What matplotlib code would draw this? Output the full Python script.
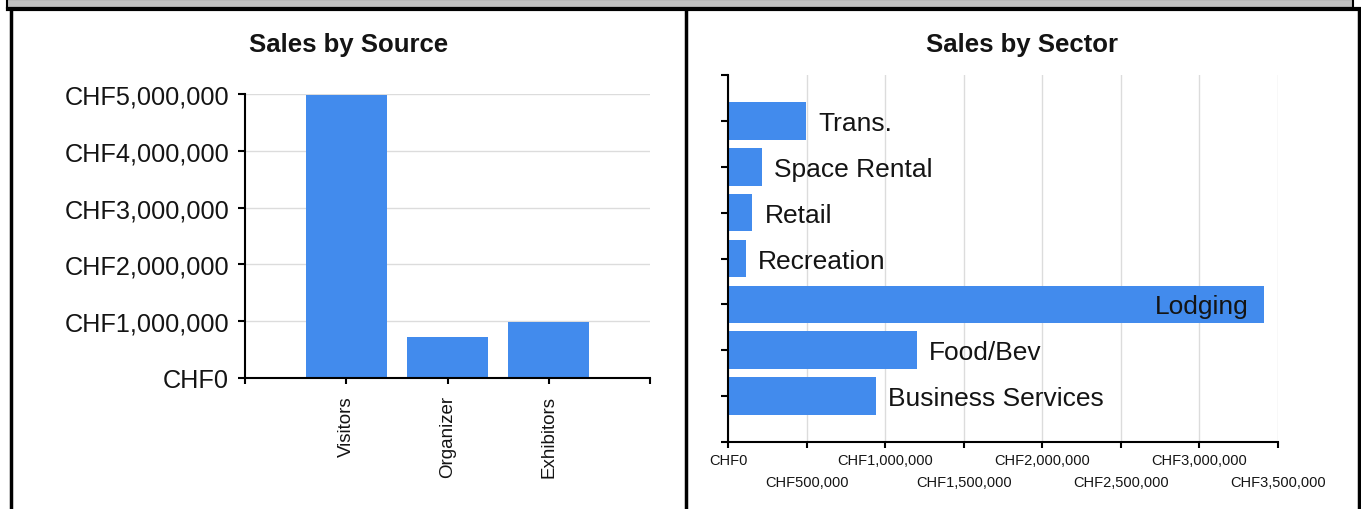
import matplotlib.pyplot as plt
from matplotlib.lines import Line2D
from matplotlib.patches import Rectangle

plt.rcParams['font.family'] = ['Liberation Sans', 'DejaVu Sans']

# Sales by source
sources = ["Visitors", "Organizer", "Exhibitors"]
source_sales = [4990000, 720000, 980000]

# Sales by sector (bottom to top)
sectors = ["Business Services", "Food/Bev", "Lodging", "Recreation", "Retail", "Space Rental", "Trans."]
sector_sales = [940000, 1200000, 3410000, 113000, 152000, 215000, 495000]

bar_color = '#428bed'
grid_color = '#dcdcdc'
text_color = '#141414'


def chf(v):
    return "CHF{:,.0f}".format(v)


W, H = 1361, 510
fig = plt.figure(figsize=(W / 100, H / 100), dpi=100)

# panel frame
fig.add_artist(Rectangle((7 / W, 1 - 9 / H), (1353 - 7) / W, 9 / H, transform=fig.transFigure,
                         facecolor='#c0c0c0', edgecolor='black', lw=1.5))
ytop = 1 - 10 / H
fig.add_artist(Line2D([8 / W, 1], [ytop, ytop], transform=fig.transFigure, color='black', lw=3))
for xp in [10.5, 686, 1359]:
    fig.add_artist(Line2D([xp / W, xp / W], [0, ytop], transform=fig.transFigure, color='black', lw=2.5))

# ---- left chart
ax1 = fig.add_axes([245 / W, (H - 379) / H, 405 / W, 284 / H])
xs = range(len(sources))
ax1.bar(xs, source_sales, width=0.8, color=bar_color, zorder=2)
ax1.set_xlim(-1, 3)
ax1.set_ylim(0, 5000000)
yt = [0, 1000000, 2000000, 3000000, 4000000, 5000000]
ax1.set_yticks(yt, [chf(v) for v in yt])
ax1.set_xticks(list(xs), sources, rotation=90)
ax1.set_xticks([-1, 3], minor=True)
ax1.grid(axis='y', color=grid_color, lw=1, zorder=0)
ax1.tick_params(axis='y', length=5, width=1.5, pad=6.5, labelsize=18.2, labelcolor=text_color)
ax1.tick_params(axis='x', which='both', length=4.5, width=1.5, pad=8, labelsize=13.5, labelcolor=text_color)
for s in ['top', 'right']:
    ax1.spines[s].set_visible(False)
for s in ['left', 'bottom']:
    ax1.spines[s].set_linewidth(1.5)
fig.text(349 / W, (H - 45) / H, "Sales by Source", ha='center', va='center',
         fontsize=18.5, fontweight='bold', color=text_color)

# ---- right chart
ax2 = fig.add_axes([728 / W, (H - 443) / H, 550 / W, 367 / H])
ys = range(len(sectors))
ax2.barh(ys, sector_sales, height=0.82, color=bar_color, zorder=2)
ax2.set_xlim(0, 3500000)
ax2.set_ylim(-1, 7)
ax2.set_yticks(list(ys), [])
ax2.set_yticks([-1, 7], minor=True)
major = [0, 1000000, 2000000, 3000000]
minor = [500000, 1500000, 2500000, 3500000]
ax2.set_xticks(major, [chf(v) for v in major])
ax2.set_xticks(minor, [chf(v) for v in minor], minor=True)
ax2.grid(axis='x', which='both', color=grid_color, lw=1, zorder=0)
ax2.tick_params(axis='y', which='both', length=5, width=1.5)
ax2.tick_params(axis='x', which='both', length=4, width=1.5, labelsize=10.5, labelcolor=text_color)
ax2.tick_params(axis='x', which='major', pad=4)
ax2.tick_params(axis='x', which='minor', pad=20)
for s in ['top', 'right']:
    ax2.spines[s].set_visible(False)
for s in ['left', 'bottom']:
    ax2.spines[s].set_linewidth(1.5)

for y, v, name in zip(ys, sector_sales, sectors):
    if v > 3000000:
        ax2.annotate(name, (v, y), xytext=(-11, -1.5), textcoords='offset points',
                     ha='right', va='center', fontsize=19, color=text_color, zorder=3)
    else:
        ax2.annotate(name, (v, y), xytext=(9, -1.5), textcoords='offset points',
                     ha='left', va='center', fontsize=19, color=text_color, zorder=3)

fig.text(1022 / W, (H - 45) / H, "Sales by Sector", ha='center', va='center',
         fontsize=18.5, fontweight='bold', color=text_color)

fig.savefig("out.png", dpi=100)
